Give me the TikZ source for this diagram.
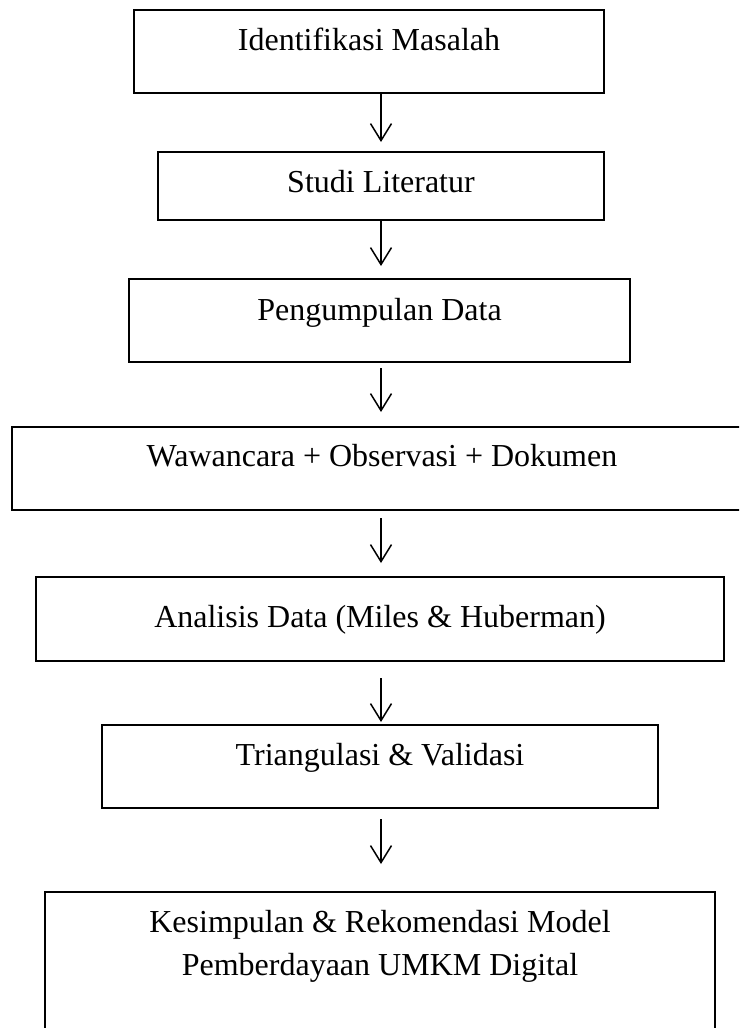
\documentclass[tikz,border=0pt]{standalone}
\usepackage{fontspec}
\setmainfont{Liberation Serif}
\usetikzlibrary{arrows.meta}
\tikzset{
  stagebox/.style={draw=black, line width=2pt, rectangle, inner sep=0pt, fill=none},
  stagetext/.style={anchor=base, inner sep=0pt, font=\fontsize{32}{43}\selectfont},
  flowarrow/.style={line width=1.5pt, -{Straight Barb[length=17pt, width=21pt, line width=1.5pt]}}
}
\begin{document}
\begin{tikzpicture}[x=1pt, y=-1pt]
\useasboundingbox (0,0) rectangle (739,1028);
\clip (0,0) rectangle (739,1028);
\coordinate (ax) at (381,0);
% boxes
\node[stagebox, minimum width=470pt, minimum height=83pt] (b1) at (369,51.5) {};
\node[stagebox, minimum width=446pt, minimum height=68pt] (b2) at (381,186) {};
\node[stagebox, minimum width=501pt, minimum height=83pt] (b3) at (379.5,320.5) {};
\node[stagebox, minimum width=740pt, minimum height=83pt] (b4) at (382,468.5) {};
\node[stagebox, minimum width=688pt, minimum height=84pt] (b5) at (380,619) {};
\node[stagebox, minimum width=556pt, minimum height=83pt] (b6) at (380,766.5) {};
\node[stagebox, minimum width=670pt, minimum height=168pt] (b7) at (380,976) {};
% texts
\node[stagetext] (t1) at (369,50) {Identifikasi Masalah};
\node[stagetext] (t2) at (381,192) {Studi Literatur};
\node[stagetext] (t3) at (379.5,320) {Pengumpulan Data};
\node[stagetext] (t4) at (382,466) {Wawancara + Observasi + Dokumen};
\node[stagetext] (t5) at (380,627) {Analisis Data (Miles \& Huberman)};
\node[stagetext] (t6) at (380,765) {Triangulasi \& Validasi};
\node[stagetext] (t7a) at (380,932) {Kesimpulan \& Rekomendasi Model};
\node[stagetext] (t7b) at (380,975) {Pemberdayaan UMKM Digital};
% arrows
\draw[flowarrow, shorten >=9pt] (b1.south -| ax) -- (b2.north -| ax);
\draw[flowarrow, shorten >=12pt] (b2.south -| ax) -- (b3.north -| ax);
\draw[flowarrow, shorten <=5pt, shorten >=14pt] (b3.south -| ax) -- (b4.north -| ax);
\draw[flowarrow, shorten <=7pt, shorten >=13pt] (b4.south -| ax) -- (b5.north -| ax);
\draw[flowarrow, shorten <=16pt, shorten >=2pt] (b5.south -| ax) -- (b6.north -| ax);
\draw[flowarrow, shorten <=10pt, shorten >=27pt] (b6.south -| ax) -- (b7.north -| ax);
\end{tikzpicture}
\end{document}
